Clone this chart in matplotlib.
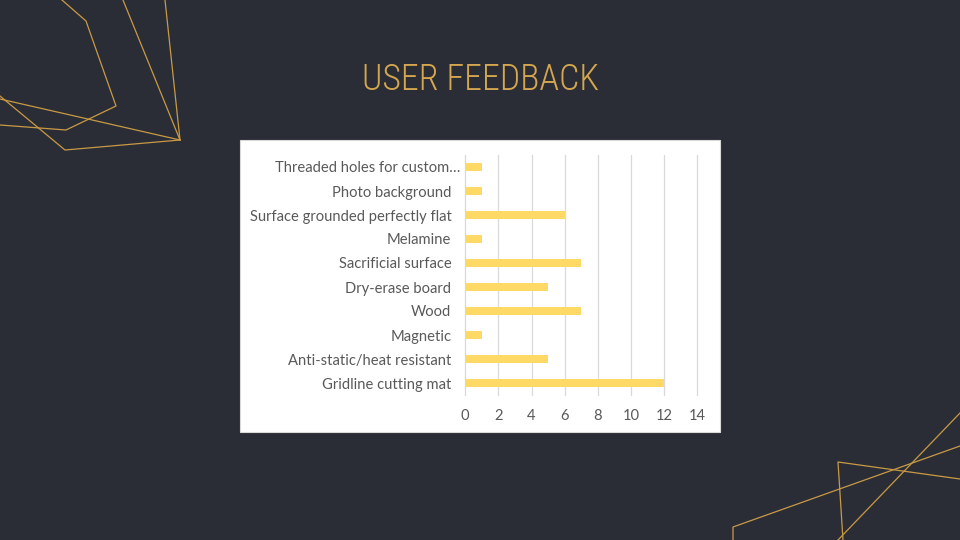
import matplotlib
matplotlib.use("Agg")
import matplotlib.pyplot as plt
from matplotlib.patches import Rectangle
from matplotlib.lines import Line2D
from matplotlib.transforms import ScaledTranslation

BG = "#2a2d36"
GOLD = "#d4a64f"
BAR = "#ffd966"
TXT = "#595959"

categories = ["Gridline cutting mat", "Anti-static/heat resistant", "Magnetic", "Wood",
              "Dry-erase board", "Sacrificial surface", "Melamine",
              "Surface grounded perfectly flat", "Photo background",
              "Threaded holes for custom\u2026"]
counts = [12, 5, 1, 7, 5, 7, 1, 6, 1, 1]
x_ticks = [0, 2, 4, 6, 8, 10, 12, 14]

# decorative outlines (pixel coords, y from top)
deco = [
    [(62, 0), (86, 21), (116, 106), (66, 130), (0, 125)],
    [(123, 0), (180, 140)],
    [(165, 0), (180, 140)],
    [(0, 99), (180, 140)],
    [(0, 96), (65, 150), (180, 140)],
    [(733, 540), (733, 527), (960, 446)],
    [(960, 479), (838, 462), (843, 540)],
    [(838, 540), (960, 413)],
]

fig = plt.figure(figsize=(9.6, 5.4), dpi=100, facecolor=BG)

for pts in deco:
    xs = [p[0] / 960 for p in pts]
    ys = [1 - p[1] / 540 for p in pts]
    fig.add_artist(Line2D(xs, ys, color="#c99a45", lw=0.9, transform=fig.transFigure))

fig.text(0.501, 1 - 80 / 540, "USER FEEDBACK", color=GOLD, fontsize=25.8,
         family=["Roboto Condensed", "Roboto"], weight="light", ha="center", va="center")

box = Rectangle((240 / 960, 1 - 432 / 540), 480 / 960, 292 / 540,
                facecolor="white", edgecolor="#d9d9d9", lw=0.8,
                transform=fig.transFigure, zorder=-1)
fig.add_artist(box)

ax = fig.add_axes([465.3 / 960, 1 - 395 / 540, 232 / 960, 240 / 540])
ax.set_zorder(2)
ax.set_facecolor("none")
ax.barh(range(len(categories)), counts, height=0.36, color=BAR, zorder=3)
ax.set_xlim(0, 14)
ax.set_ylim(-0.5, len(categories) - 0.5)
ax.set_xticks(x_ticks)
ax.set_yticks(range(len(categories)))
ax.set_yticklabels(categories)
ax.grid(axis="x", color="#d9d9d9", lw=0.9, zorder=0)
for gl in ax.get_xgridlines():
    gl.set_clip_on(False)
for s in ax.spines.values():
    s.set_visible(False)
ax.tick_params(length=0, colors=TXT, labelsize=10.6)
ax.tick_params(axis="y", pad=10)
ax.tick_params(axis="x", pad=10)
for lab in ax.get_xticklabels() + ax.get_yticklabels():
    lab.set_family(["Lato", "DejaVu Sans"])
# the long first label sits a little further right, as in the original
top = ax.get_yticklabels()[-1]
top.set_transform(top.get_transform() + ScaledTranslation(9 / 100, 0, fig.dpi_scale_trans))

fig.savefig("out.png", dpi=100, facecolor=BG)
